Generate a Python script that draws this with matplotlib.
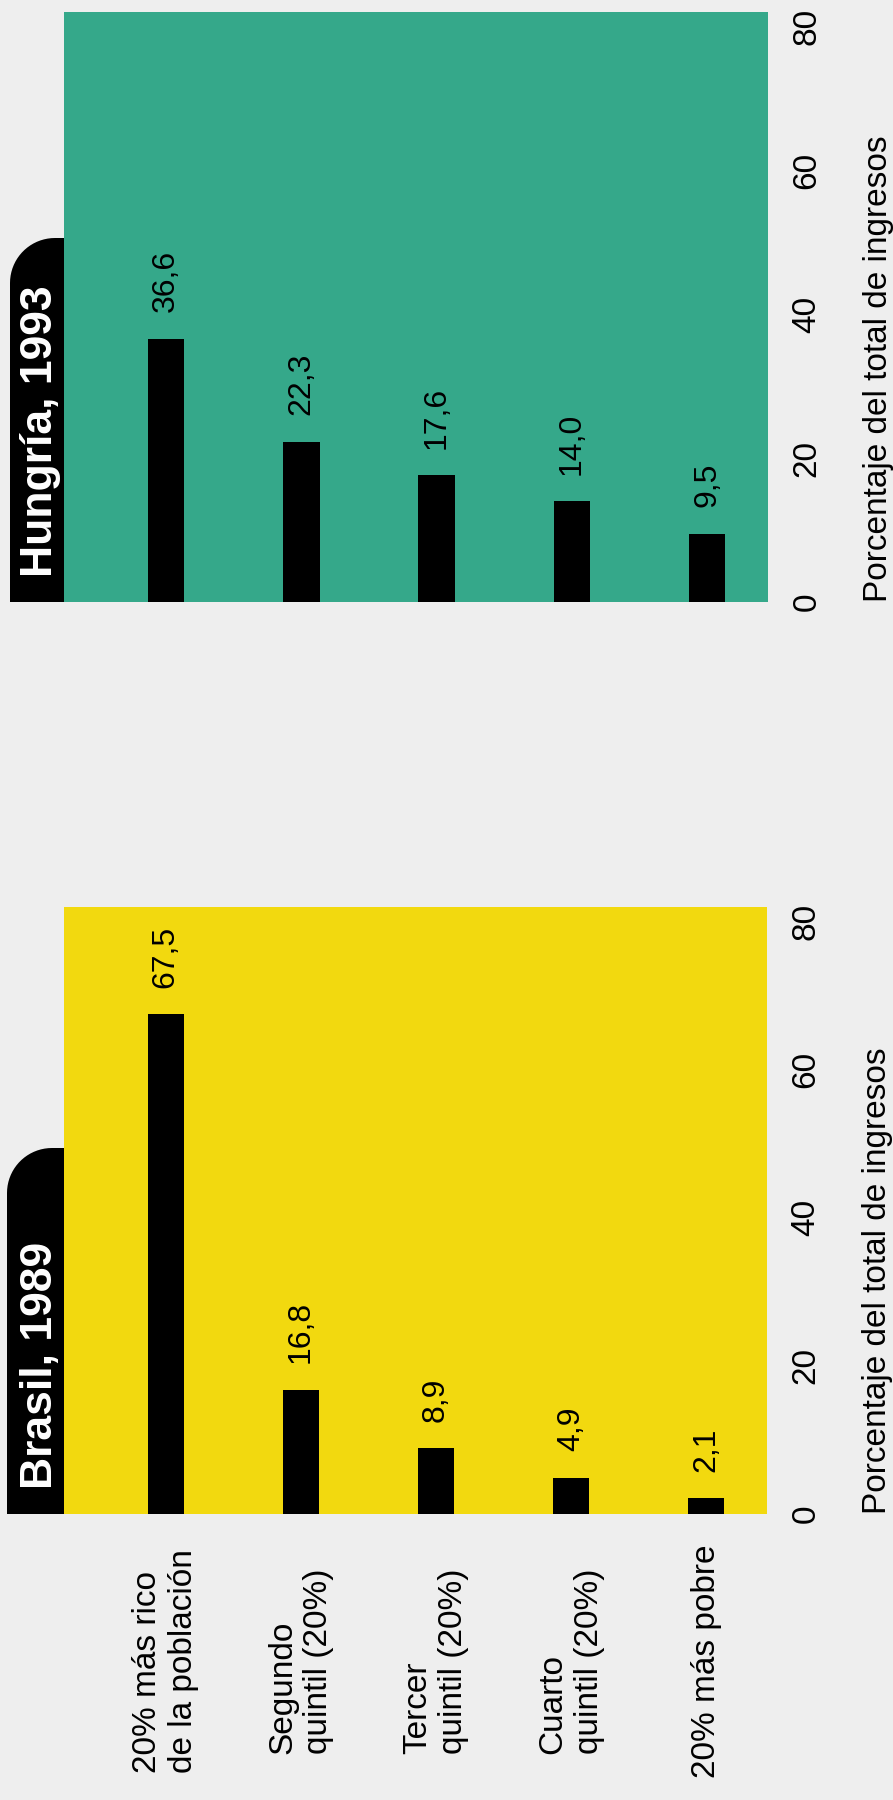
import matplotlib.pyplot as plt
from matplotlib.path import Path
from matplotlib.patches import PathPatch
import numpy as np

plt.rcParams['font.family'] = ['Liberation Sans', 'DejaVu Sans']

# data
quintiles = ['20% más rico\nde la población', 'Segundo\nquintil (20%)',
             'Tercer\nquintil (20%)', 'Cuarto\nquintil (20%)', '20% más pobre']
hungria = [36.6, 22.3, 17.6, 14.0, 9.5]
brasil = [67.5, 16.8, 8.9, 4.9, 2.1]
titulos = ['Hungría, 1993', 'Brasil, 1989']
colores = ['#35a88a', '#f2d90f']
yticks = [0, 20, 40, 60, 80]
eje = 'Porcentaje del total de ingresos'

W, H = 893, 1800
fig = plt.figure(figsize=(W / 100, H / 100), dpi=100, facecolor='#eeeeee')


def fx(x):
    return x / W


def fy(y):
    return 1 - y / H


def tab(left, top, right, bottom, r):
    # black title tab, rounded on the top-left corner
    t = np.linspace(np.pi, np.pi / 2, 20)
    arc = [(fx(left + r + r * np.cos(a)), fy(top + r - r * np.sin(a))) for a in t]
    verts = [(fx(left), fy(bottom))] + arc + [(fx(right), fy(top)), (fx(right), fy(bottom)), (fx(left), fy(bottom))]
    codes = [Path.MOVETO] + [Path.LINETO] * (len(verts) - 2) + [Path.CLOSEPOLY]
    fig.patches.append(PathPatch(Path(verts, codes), transform=fig.transFigure,
                                 facecolor='black', edgecolor='none', zorder=-1))


# pixel boxes: left, top, right, bottom ; tab left, tab top
boxes = [(64, 12, 768, 602, 10, 238), (64, 907, 767, 1514, 7, 1148)]
x = np.arange(len(quintiles))

for vals, titulo, color, (l, t, r, b, tl, tt) in zip([hungria, brasil], titulos, colores, boxes):
    ax = fig.add_axes([fx(l), fy(b), fx(r - l), (b - t) / H])
    ax.set_facecolor(color)
    for s in ax.spines.values():
        s.set_visible(False)
    bars = ax.bar(x, vals, width=0.27, color='black')
    ax.bar_label(bars, labels=[f'{v:.1f}'.replace('.', ',') for v in vals],
                 padding=19, rotation=90, fontsize=23)
    ax.set_xlim(-0.754, 4.45)
    ax.set_ylim(0, 82)
    ax.set_xticks([])
    ax.yaxis.tick_right()
    ax.set_yticks(yticks)
    ax.tick_params(axis='y', length=0, pad=17, labelsize=24, labelrotation=90)
    for lab in ax.get_yticklabels():
        lab.set_va('center')
    ax.yaxis.set_label_position('right')
    ax.set_ylabel(eje, fontsize=24, loc='bottom', labelpad=29, rotation=90)

    tab(tl, tt, l, b, 45)
    ax.annotate(titulo, xy=(0, 0), xycoords='axes fraction', xytext=(-17, 18),
                textcoords='offset points', rotation=90, ha='center', va='bottom',
                color='white', fontsize=32, fontweight='bold', annotation_clip=False)

# category labels under the lower panel
for i, q in enumerate(quintiles):
    ax.annotate(q, xy=(i, 0), xycoords=('data', 'axes fraction'), xytext=(0, -106),
                textcoords='offset points', rotation=90, ha='center', va='center',
                multialignment='left', fontsize=24, annotation_clip=False)

fig.savefig('out.png', dpi=100, facecolor=fig.get_facecolor())
